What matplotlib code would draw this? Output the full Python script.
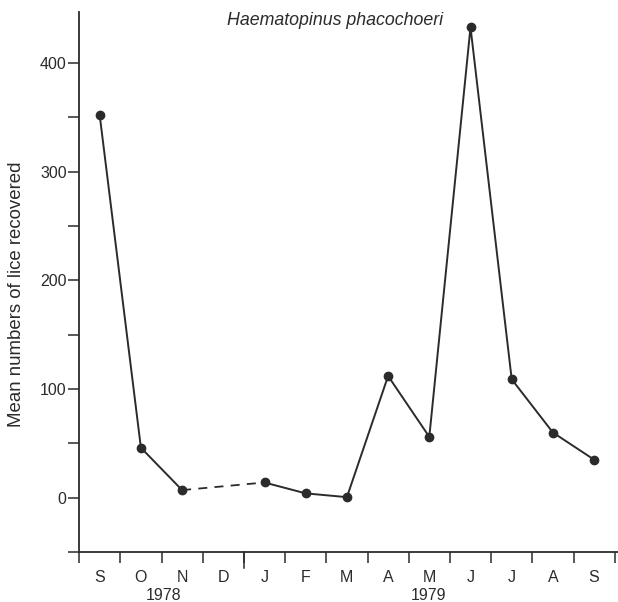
import numpy as np
import matplotlib
matplotlib.use("Agg")
import matplotlib.pyplot as plt
import matplotlib.transforms as mtransforms

plt.rcParams['font.family'] = ['Liberation Sans', 'DejaVu Sans']

months = ["S", "O", "N", "D", "J", "F", "M", "A", "M", "J", "J", "A", "S"]
lice = [352, 46, 7, None, 14, 4, 0.5, 112, 56, 433, 109, 60, 35]
years = ["1978", "1979"]
year_pos = [1.55, 7.98]
title = "Haematopinus phacochoeri"

x = np.arange(len(months))
y = np.array([np.nan if v is None else v for v in lice], dtype=float)

fig = plt.figure(figsize=(6.18, 6.02), dpi=100)
ax = fig.add_axes([0.128, 0.083, 0.872, 0.897])

ink = "#2b2b2b"
ax.plot(x, y, color=ink, lw=1.4, marker="o", ms=6, zorder=3)

# dashed bridge over the missing month
gap = np.where(np.isnan(y))[0]
for g in gap:
    ax.plot([x[g - 1], x[g + 1]], [y[g - 1], y[g + 1]], color=ink, lw=1.3,
            ls=(0, (5, 4)), zorder=2)

ax.set_xlim(-0.5, 12.58)
ax.set_ylim(-49, 447)

ax.spines['top'].set_visible(False)
ax.spines['right'].set_visible(False)
ax.spines['left'].set_color(ink)
ax.spines['bottom'].set_color(ink)
ax.spines['left'].set_linewidth(1.3)
ax.spines['bottom'].set_linewidth(1.3)

ax.set_yticks([0, 100, 200, 300, 400])
ax.set_yticks(np.arange(-50, 450, 100), minor=True)
ax.tick_params(axis='y', which='both', direction='out', length=8, width=1.1,
               color=ink, labelsize=11.5, labelcolor=ink, pad=1)

ax.set_xticks(x)
ax.set_xticklabels(months)
ax.set_xticks(np.arange(-0.5, 13, 1.0), minor=True)
ax.tick_params(axis='x', which='major', length=0, labelsize=11.5,
               labelcolor=ink, pad=13)
ax.tick_params(axis='x', which='minor', direction='out', length=8, width=1.1,
               color=ink)

# longer tick at the turn of the year
trans = mtransforms.blended_transform_factory(ax.transData, ax.transAxes)
ax.plot([3.5, 3.5], [0, -0.03], transform=trans, color=ink, lw=1.1,
        clip_on=False)

for yr, xp in zip(years, year_pos):
    ax.text(xp, -0.081, yr, transform=trans, ha='center', va='center',
            fontsize=11.5, color=ink)

ax.text(5.72, 0.985, title, transform=trans, ha='center', va='center',
        fontsize=12.8, style='italic', color=ink)

ax.set_ylabel("Mean numbers of lice recovered", fontsize=13.4, color=ink)
ax.yaxis.set_label_coords(-0.100, 0.478)

fig.savefig("out.png", dpi=100)
